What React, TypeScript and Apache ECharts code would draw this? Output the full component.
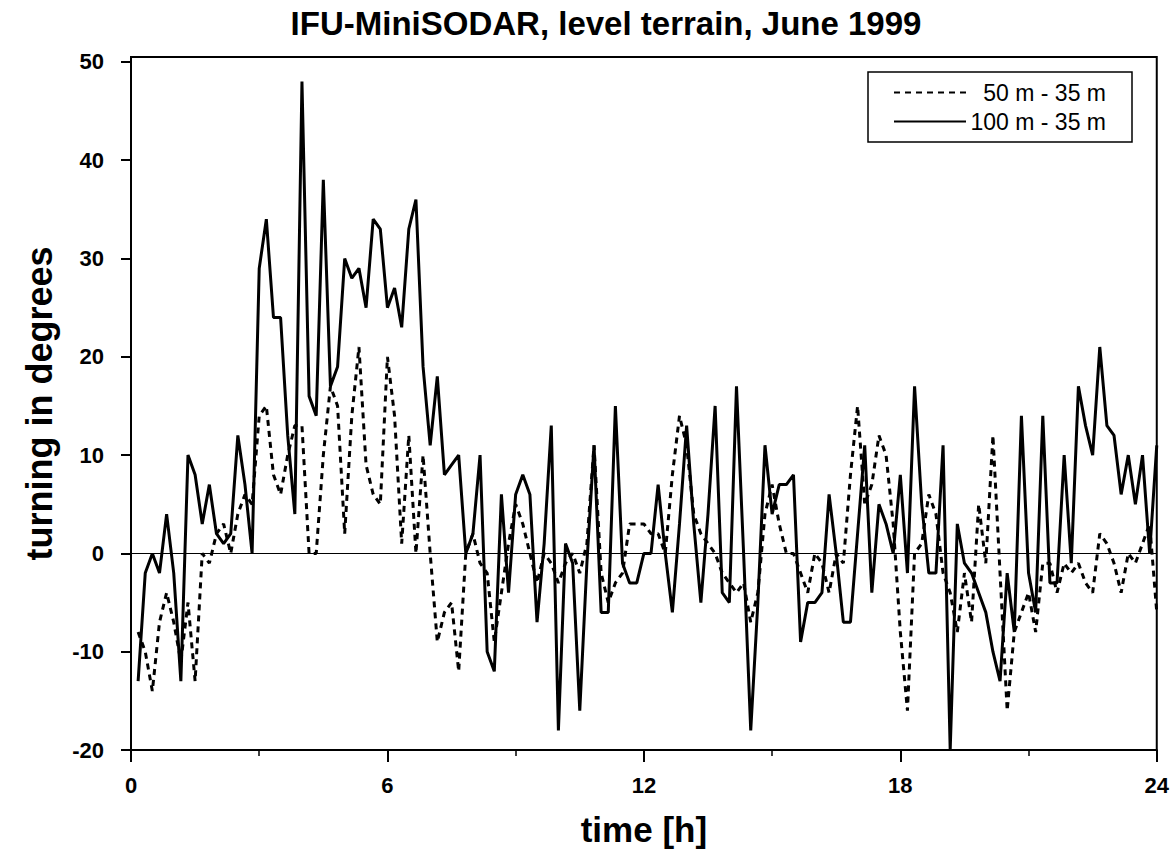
import React, { useEffect, useRef } from "react";
import * as echarts from "echarts";

const TITLE = "IFU-MiniSODAR, level terrain, June 1999";
const NAME_50 = "50 m - 35 m";
const NAME_100 = "100 m - 35 m";
const X_NAME = "time [h]";
const Y_NAME = "turning in degrees";
const X_TICKS = [0, 6, 12, 18, 24];
const Y_TICKS = [-20, -10, 0, 10, 20, 30, 40, 50];
const STEP_MINUTES = 10;

// 50 m - 35 m (dashed), one value every 10 minutes from 00:10 to 24:00
const diff50 = [
  -8, -10, -14, -7, -4, -7, -11, -5, -13, 0,
  -1, 2, 3, 0, 4, 6, 5, 14, 15, 8,
  6, 10, 13, 13, 0, 0, 10, 17, 15, 2,
  14, 21, 9, 6, 5, 20, 14, 1, 12, 0,
  10, 0, -9, -6, -5, -12, 0, 2, -1, -2,
  -9, -4, 1, 5, 3, 0, -3, 0, -1, -3,
  -1, 0, -2, 1, 11, -2, -5, -3, -2, 3,
  3, 3, 2, 2, 0, 8, 14, 11, 4, 2,
  1, 0, -2, -3, -4, -3, -7, -4, 4, 7,
  3, 0, 0, -2, -4, 0, -1, -4, 0, -1,
  8, 15, 5, 7, 12, 10, 3, -8, -16, 0,
  1, 6, 4, -2, -4, -8, -2, -7, 5, -1,
  12, -2, -16, -8, -6, -4, -8, -1, -1, -4,
  -1, -2, -1, -3, -4, 2, 1, -1, -4, 0,
  -1, 1, 3, -6,
];

// 100 m - 35 m (solid)
const diff100 = [
  -13, -2, 0, -2, 4, -2, -13, 10, 8, 3,
  7, 2, 1, 2, 12, 7, 0, 29, 34, 24,
  24, 12, 4, 48, 16, 14, 38, 17, 19, 30,
  28, 29, 25, 34, 33, 25, 27, 23, 33, 36,
  19, 11, 18, 8, 9, 10, 0, 2, 10, -10,
  -12, 6, -4, 6, 8, 6, -7, 1, 13, -18,
  1, -1, -16, -1, 11, -6, -6, 15, -1, -3,
  -3, 0, 0, 7, 0, -6, 3, 13, 3, -5,
  4, 15, -4, -5, 17, 0, -18, -5, 11, 4,
  7, 7, 8, -9, -5, -5, -4, 6, 0, -7,
  -7, 2, 11, -4, 5, 3, 0, 8, -2, 17,
  5, -2, -2, 11, -20, 3, -1, -2, -4, -6,
  -10, -13, -2, -8, 14, -2, -6, 14, -3, -3,
  10, -1, 17, 13, 10, 21, 13, 12, 6, 10,
  5, 10, 0, 11,
];

const FONT = "'Liberation Sans', Arial, Helvetica, sans-serif";

export default function App() {
  const ref = useRef<HTMLDivElement>(null);

  useEffect(() => {
    if (!ref.current) return;
    const chart = echarts.init(ref.current, null, { renderer: "svg" });
    const toPairs = (arr: number[]) =>
      arr.map((v, i) => [((i + 1) * STEP_MINUTES) / 60, v]);

    chart.setOption({
      animation: false,
      backgroundColor: "#ffffff",
      title: {
        text: TITLE,
        left: 601,
        top: 2,
        textAlign: "center",
        textStyle: {
          fontFamily: FONT,
          fontWeight: "bold",
          fontSize: 33,
          color: "#000",
        },
      },
      legend: {
        left: 868,
        top: 72,
        orient: "vertical",
        padding: [9, 26, 9, 25],
        itemGap: 6,
        itemWidth: 72,
        itemHeight: 14,
        borderColor: "#000",
        borderWidth: 1.5,
        backgroundColor: "#fff",
        itemStyle: { opacity: 0 },
        data: [NAME_50, NAME_100],
        formatter: (name: string) => `{t|${name}}`,
        textStyle: {
          fontFamily: FONT,
          fontSize: 23,
          color: "#000",
          rich: {
            t: {
              width: 135,
              align: "right",
              fontFamily: FONT,
              fontSize: 23,
              lineHeight: 24,
              color: "#000",
            },
          },
        },
      },
      grid: {
        left: 131,
        right: 12,
        top: 57,
        bottom: 115,
        show: true,
        borderColor: "#000",
        borderWidth: 2,
        backgroundColor: "transparent",
      },
      xAxis: {
        type: "value",
        min: 0,
        max: 24,
        interval: 6,
        name: X_NAME,
        nameLocation: "middle",
        nameGap: 62,
        nameTextStyle: {
          fontFamily: FONT,
          fontWeight: "bold",
          fontSize: 35,
          color: "#000",
        },
        axisLine: { show: true, onZero: false, lineStyle: { color: "#000", width: 2 } },
        axisTick: {
          show: true,
          length: 12,
          customValues: X_TICKS,
          lineStyle: { color: "#000", width: 2 },
        },
        minorTick: {
          show: true,
          splitNumber: 2,
          length: 6,
          lineStyle: { color: "#000", width: 1.5 },
        },
        splitLine: { show: false },
        minorSplitLine: { show: false },
        axisLabel: {
          customValues: X_TICKS,
          margin: 24,
          fontFamily: FONT,
          fontWeight: "bold",
          fontSize: 22,
          color: "#000",
        },
      },
      yAxis: {
        type: "value",
        min: -20,
        max: 50.5,
        interval: 10,
        name: Y_NAME,
        nameLocation: "middle",
        nameGap: 74,
        nameTextStyle: {
          fontFamily: FONT,
          fontWeight: "bold",
          fontSize: 36,
          color: "#000",
        },
        axisLine: { show: true, onZero: false, lineStyle: { color: "#000", width: 2 } },
        axisTick: {
          show: true,
          length: 10,
          customValues: Y_TICKS,
          lineStyle: { color: "#000", width: 2 },
        },
        splitLine: { show: false },
        axisLabel: {
          customValues: Y_TICKS,
          margin: 27,
          fontFamily: FONT,
          fontWeight: "bold",
          fontSize: 22,
          color: "#000",
        },
      },
      series: [
        {
          name: NAME_50,
          type: "line",
          data: toPairs(diff50),
          symbol: "none",
          showSymbol: false,
          lineStyle: { color: "#000", width: 3, type: [6, 5] },
          itemStyle: { color: "#000" },
          z: 2,
        },
        {
          name: NAME_100,
          type: "line",
          data: toPairs(diff100),
          symbol: "none",
          showSymbol: false,
          lineStyle: { color: "#000", width: 3, type: "solid" },
          itemStyle: { color: "#000" },
          z: 3,
          markLine: {
            silent: true,
            symbol: ["none", "none"],
            label: { show: false },
            lineStyle: { color: "#000", width: 1, type: "solid" },
            data: [{ yAxis: 0 }],
          },
        },
      ],
    });

    return () => {
      chart.dispose();
    };
  }, []);

  return (
    <div
      ref={ref}
      style={{ position: "fixed", left: 0, top: 0, width: 1172, height: 865, background: "#fff" }}
    />
  );
}
